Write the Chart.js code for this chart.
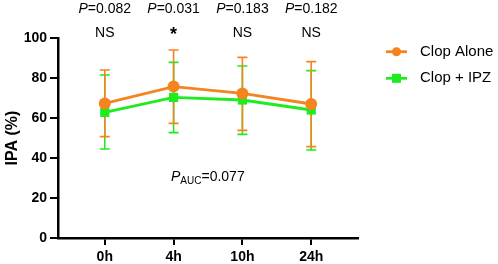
<!DOCTYPE html>
<html>
<head>
<meta charset="utf-8">
<script src="https://cdn.jsdelivr.net/npm/chart.js@4"></script>
<style>
  html, body { margin: 0; padding: 0; background: #fff; }
  #wrap { width: 498px; height: 264px; }
</style>
</head>
<body>
<div id="wrap"><canvas id="ipaChart" width="498" height="264"></canvas></div>
<script>
const hours = ['0h', '4h', '10h', '24h'];

const clopAlone = [67.3, 75.7, 72.3, 67.0];
const clopAloneLow = [50.7, 57.3, 53.8, 45.7];
const clopAloneHigh = [84.0, 94.0, 90.3, 88.2];

const clopIpz = [62.8, 70.3, 69.0, 64.0];
const clopIpzLow = [44.5, 52.7, 51.8, 44.0];
const clopIpzHigh = [81.5, 87.8, 86.0, 83.7];

const pValues = ['0.082', '0.031', '0.183', '0.182'];
const signif = ['NS', '*', 'NS', 'NS'];
const pAuc = '0.077';

const yTicks = [0, 20, 40, 60, 80, 100];

const ORANGE = '#f5841f';
const GREEN = '#1eec1e';
const FONT = 'Liberation Sans, Arial, sans-serif';

const series = [
    { label: 'Clop Alone', data: clopAlone, low: clopAloneLow, high: clopAloneHigh, color: ORANGE, style: 'circle' },
    { label: 'Clop + IPZ', data: clopIpz, low: clopIpzLow, high: clopIpzHigh, color: GREEN, style: 'rect' }
];

// error bars, drawn under the lines
const errorBars = {
    id: 'errorBars',
    beforeDatasetsDraw(chart) {
        const { ctx, scales: { x, y } } = chart;
        ctx.save();
        ctx.lineWidth = 1.6;
        for (let s = series.length - 1; s >= 0; s--) {
            const sr = series[s];
            ctx.strokeStyle = sr.color;
            sr.data.forEach((v, i) => {
                const px = x.getPixelForValue(i);
                const top = y.getPixelForValue(sr.high[i]);
                const bot = y.getPixelForValue(sr.low[i]);
                ctx.beginPath();
                ctx.moveTo(px, top); ctx.lineTo(px, bot);
                ctx.moveTo(px - 5, top); ctx.lineTo(px + 5, top);
                ctx.moveTo(px - 5, bot); ctx.lineTo(px + 5, bot);
                ctx.stroke();
            });
        }
        ctx.restore();
    }
};

// P values, NS marks, legend
const annotations = {
    id: 'annotations',
    afterDraw(chart) {
        const { ctx, scales: { x, y } } = chart;
        ctx.save();
        ctx.fillStyle = '#000';
        ctx.textBaseline = 'middle';

        const italic = 'italic 14px ' + FONT;
        const normal = '14px ' + FONT;
        pValues.forEach((p, i) => {
            const cx = x.getPixelForValue(i);
            ctx.font = italic;
            const wP = ctx.measureText('P').width;
            ctx.font = normal;
            const wRest = ctx.measureText('=' + p).width;
            const start = cx - (wP + wRest) / 2;
            ctx.textAlign = 'left';
            ctx.font = italic;
            ctx.fillText('P', start, 9);
            ctx.font = normal;
            ctx.fillText('=' + p, start + wP, 9);

            ctx.textAlign = 'center';
            if (signif[i] === '*') {
                ctx.font = 'bold 18px ' + FONT;
                ctx.fillText('*', cx, 35);
            } else {
                ctx.font = normal;
                ctx.fillText(signif[i], cx, 33);
            }
        });

        // P_AUC
        let ax = 171;
        const ay = 177;
        ctx.textAlign = 'left';
        ctx.font = italic;
        ctx.fillText('P', ax, ay);
        ax += ctx.measureText('P').width;
        ctx.font = '10px ' + FONT;
        ctx.fillText('AUC', ax, ay + 4);
        ax += ctx.measureText('AUC').width;
        ctx.font = normal;
        ctx.fillText('=' + pAuc, ax, ay);

        // legend
        series.forEach((sr, k) => {
            const ly = 51.7 + k * 26.6;
            ctx.strokeStyle = sr.color;
            ctx.fillStyle = sr.color;
            ctx.lineWidth = 2.8;
            ctx.beginPath();
            ctx.moveTo(386, ly); ctx.lineTo(407, ly);
            ctx.stroke();
            if (sr.style === 'circle') {
                ctx.beginPath();
                ctx.arc(396.5, ly, 4.5, 0, Math.PI * 2);
                ctx.fill();
            } else {
                ctx.fillRect(392, ly - 4.5, 9, 9);
            }
            ctx.fillStyle = '#000';
            ctx.font = '15px ' + FONT;
            ctx.fillText(sr.label, 420, ly);
        });
        ctx.restore();
    }
};

const ctx = document.getElementById('ipaChart').getContext('2d');
new Chart(ctx, {
    type: 'line',
    data: {
        datasets: series.map(sr => ({
            label: sr.label,
            data: sr.data.map((v, i) => ({ x: i, y: v })),
            borderColor: sr.color,
            backgroundColor: sr.color,
            borderWidth: 2.8,
            pointStyle: sr.style,
            pointRadius: sr.style === 'rect' ? 6.5 : 6,
            pointBorderWidth: 0,
            tension: 0
        }))
    },
    options: {
        responsive: false,
        animation: false,
        layout: { padding: { top: 38, right: 140, left: 0, bottom: 0 } },
        plugins: { legend: { display: false }, tooltip: { enabled: false } },
        scales: {
            x: {
                type: 'linear',
                min: -0.68,
                max: 3.68,
                afterBuildTicks: s => { s.ticks = hours.map((h, i) => ({ value: i })); },
                afterFit: s => { s.height = 26; },
                ticks: {
                    callback: v => hours[v],
                    color: '#000',
                    font: { family: FONT, size: 14, weight: 'bold' },
                    padding: 4,
                    maxRotation: 0
                },
                grid: { drawOnChartArea: false, tickLength: 7, color: '#000', lineWidth: 2 },
                border: { color: '#000', width: 2.5 }
            },
            y: {
                min: 0,
                max: 100,
                afterBuildTicks: s => { s.ticks = yTicks.map(v => ({ value: v })); },
                afterFit: s => { s.width = 58; },
                ticks: {
                    color: '#000',
                    font: { family: FONT, size: 14, weight: 'bold' },
                    padding: 3
                },
                title: {
                    display: true,
                    text: 'IPA (%)',
                    color: '#000',
                    font: { family: FONT, size: 16, weight: 'bold' },
                    padding: { top: 3, bottom: 0 }
                },
                grid: { drawOnChartArea: false, tickLength: 8, color: '#000', lineWidth: 2 },
                border: { color: '#000', width: 2.5 }
            }
        }
    },
    plugins: [errorBars, annotations]
});
</script>
</body>
</html>
